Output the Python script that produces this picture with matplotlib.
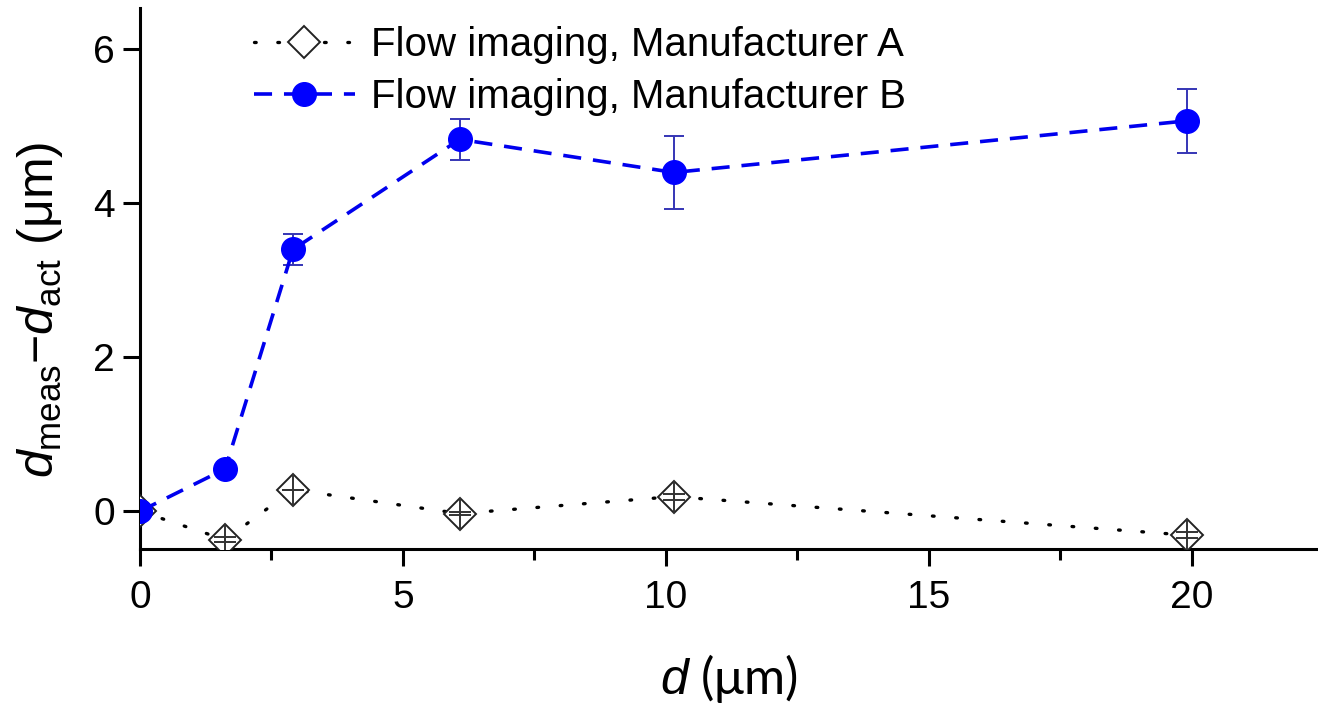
import matplotlib
matplotlib.use('Agg')
import matplotlib.pyplot as plt

# data
d_a = [0, 1.62, 2.91, 6.08, 10.15, 19.9]
diff_a = [0, -0.37, 0.28, -0.03, 0.19, -0.31]
err_a = [0, 0.03, 0, 0.02, 0.04, 0.04]

d_b = [0, 1.62, 2.91, 6.08, 10.15, 19.9]
diff_b = [0, 0.55, 3.4, 4.83, 4.4, 5.07]
err_b = [0, 0, 0.2, 0.27, 0.47, 0.42]

label_a = 'Flow imaging, Manufacturer A'
label_b = 'Flow imaging, Manufacturer B'

plt.rcParams['font.family'] = ['Liberation Sans', 'DejaVu Sans']
plt.rcParams['mathtext.fontset'] = 'custom'
plt.rcParams['mathtext.rm'] = 'Liberation Sans'
plt.rcParams['mathtext.it'] = 'Liberation Sans:italic'

fig = plt.figure(figsize=(13.18, 7.05), dpi=100)
ax = fig.add_axes([0.1062, 0.2213, 0.8938, 0.7667])

# manufacturer A: dotted line, open diamonds with small error bars inside
ax.plot(d_a, diff_a, linestyle=(0, (0.5, 6.5)), color='black', lw=2.4,
        dash_capstyle='round', marker='D', markersize=16, markerfacecolor='white',
        markeredgecolor='#222222', markeredgewidth=1.4, label=label_a, zorder=4)
ax.plot(d_a[1:], diff_a[1:], linestyle='none', marker='|', markersize=23,
        markeredgecolor='#333333', markeredgewidth=1.4, zorder=5)
ax.errorbar(d_a[1:], diff_a[1:], yerr=err_a[1:], fmt='none', ecolor='#333333',
            elinewidth=1.4, capsize=8, capthick=1.4, zorder=5)

# manufacturer B: dashed line with filled circles
ax.errorbar(d_b, diff_b, yerr=err_b, fmt='none', ecolor='#3535b5',
            elinewidth=1.4, capsize=7, capthick=1.4, zorder=3)
ax.plot(d_b, diff_b, linestyle=(0, (5, 3.3)), color='#0000ee', lw=2.6,
        marker='o', markersize=17, markerfacecolor='#0000ff',
        markeredgecolor='#0000ff', label=label_b, zorder=6)

ax.set_xlim(0, 22.4)
ax.set_ylim(-0.49, 6.53)
ax.set_xticks([0, 5, 10, 15, 20])
ax.set_xticks([2.5, 7.5, 12.5, 17.5], minor=True)
ax.set_yticks([0, 2, 4, 6])

for s in ['top', 'right']:
    ax.spines[s].set_visible(False)
for s in ['left', 'bottom']:
    ax.spines[s].set_linewidth(2.2)
    ax.spines[s].set_clip_on(False)

ax.tick_params(axis='both', which='major', direction='out', length=12, width=2.2,
               labelsize=28, pad=6)
ax.tick_params(axis='x', which='major', pad=10)
ax.tick_params(axis='x', which='minor', direction='out', length=8, width=2.2)

ax.set_xlabel('$d$ (μm)', fontsize=36, family=['Lato', 'DejaVu Sans'], va='center')
ax.xaxis.set_label_coords(0.5, -0.24)
ax.set_ylabel(r'$d_{\mathrm{meas}}$−$d_{\mathrm{act}}$ (μm)', fontsize=36, va='center')
ax.yaxis.set_label_coords(-0.085, 0.442)

leg = ax.legend(loc='upper left', bbox_to_anchor=(0.066, 1.035), frameon=False,
                fontsize=29, handlelength=2.5, handletextpad=0.4, labelspacing=0.35)

fig.savefig('out.png', dpi=100)
